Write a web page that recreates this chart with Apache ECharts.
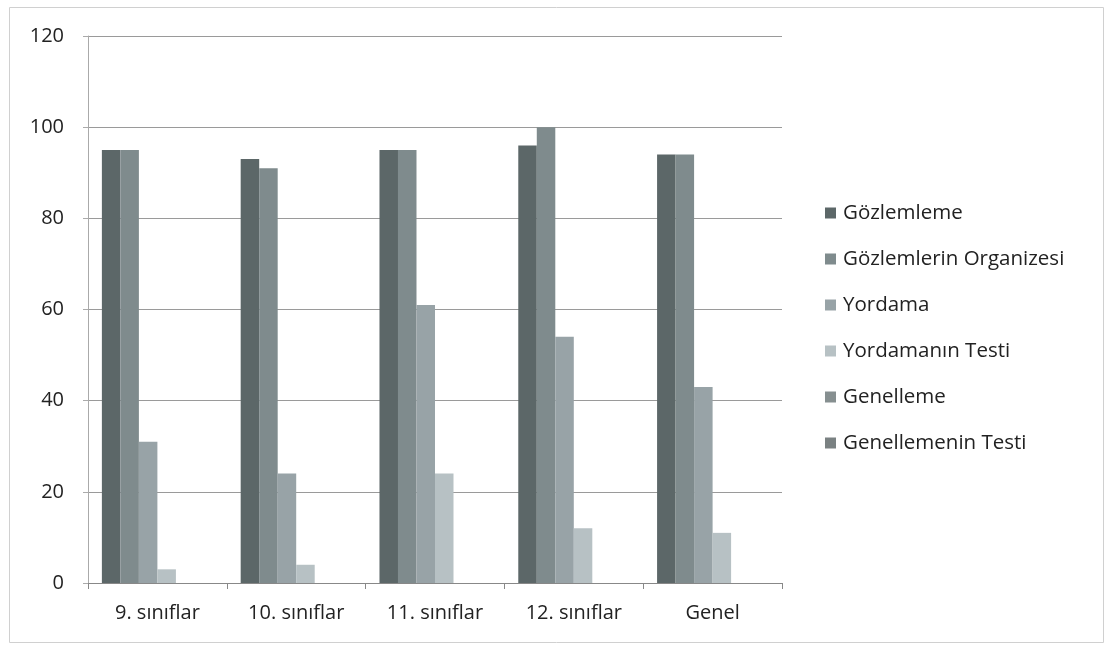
<!DOCTYPE html>
<html><head><meta charset="utf-8">
<script src="https://cdn.jsdelivr.net/npm/echarts@6/dist/echarts.min.js"></script>
<style>html,body{margin:0;padding:0;background:#fff}#c{width:1110px;height:646px}</style>
</head><body><div id="c"></div>
<script>
var categories = ['9. sınıflar', '10. sınıflar', '11. sınıflar', '12. sınıflar', 'Genel'];
var seriesNames = ['Gözlemleme', 'Gözlemlerin Organizesi', 'Yordama', 'Yordamanın Testi', 'Genelleme', 'Genellemenin Testi'];
var gozlemleme = [95, 93, 95, 96, 94];
var organizesi = [95, 91, 95, 100, 94];
var yordama = [31, 24, 61, 54, 43];
var yordamaTesti = [3, 4, 24, 12, 11];
var genelleme = [0, 0, 0, 0, 0];
var genellemeTesti = [0, 0, 0, 0, 0];
var yTicks = [0, 20, 40, 60, 80, 100, 120];

var colors = ['#5c6768', '#7f8b8d', '#98a3a7', '#b7c1c4', '#868f90', '#7a8182'];
var dataSets = [gozlemleme, organizesi, yordama, yordamaTesti, genelleme, genellemeTesti];
var font = '"Open Sans", "Liberation Sans", sans-serif';

var chart = echarts.init(document.getElementById('c'), null, {renderer: 'canvas'});
chart.setOption({
  animation: false,
  backgroundColor: '#fff',
  color: colors,
  graphic: [{type: 'rect', shape: {x: 9.5, y: 7.5, width: 1094, height: 635}, style: {fill: 'none', stroke: '#d0d0d0', lineWidth: 1}, silent: true}],
  grid: {left: 88, right: 328, top: 36, bottom: 63, containLabel: false},
  legend: {
    orient: 'vertical', left: 820, top: 197, itemGap: 24, itemWidth: 11, itemHeight: 11,
    icon: 'rect', data: seriesNames,
    textStyle: {fontFamily: font, fontSize: 20.5, lineHeight: 22, color: '#222', padding: [0, 0, 0, 2]}
  },
  xAxis: {
    type: 'category', data: categories,
    axisLine: {lineStyle: {color: '#888', width: 1}},
    axisTick: {show: true, length: 6, lineStyle: {color: '#888'}},
    axisLabel: {fontFamily: font, fontSize: 20, color: '#222', margin: 20}
  },
  yAxis: {
    type: 'value', min: 0, max: 120, interval: 20,
    axisLine: {show: true, lineStyle: {color: '#aaa'}},
    axisTick: {show: true, length: 5, inside: false, lineStyle: {color: '#aaa'}},
    axisLabel: {fontFamily: font, fontSize: 20, color: '#222', margin: 24,
      formatter: function (v) { return yTicks.indexOf(v) >= 0 ? String(v) : ''; }},
    splitLine: {lineStyle: {color: '#9a9a9a', width: 1}}
  },
  series: seriesNames.map(function (n, i) {
    return {name: n, type: 'bar', data: dataSets[i], barGap: '0%', barCategoryGap: '20%',
      itemStyle: {color: colors[i]}};
  })
});
</script></body></html>
